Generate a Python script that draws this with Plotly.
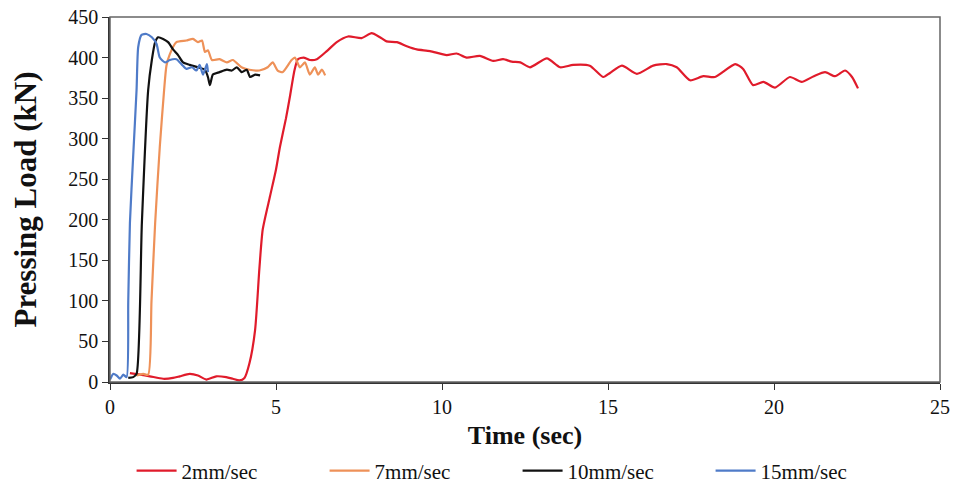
import plotly.graph_objects as go

# ---- data ----
t_2 = [0.6, 0.9, 1.2, 1.6, 1.9, 2.1, 2.4, 2.65, 2.9, 3.2, 3.5, 3.7, 3.9, 4.05, 4.2, 4.37, 4.5, 4.6, 4.82, 5.0, 5.12, 5.3, 5.42, 5.56, 5.66,
       5.83, 6.02, 6.23, 6.53, 6.83, 7.17, 7.58, 7.88, 8.13, 8.33, 8.64, 8.94, 9.24, 9.64, 10.14, 10.44, 10.74, 11.14, 11.54, 11.84,
       12.1, 12.36, 12.65, 13.16, 13.56, 13.95, 14.45, 14.86, 15.06, 15.42, 15.87, 16.36, 16.77, 17.07, 17.47, 17.87, 18.22, 18.83,
       19.07, 19.37, 19.68, 20.03, 20.48, 20.83, 21.2, 21.54, 21.84, 22.14, 22.35, 22.53]
L_2 = [11, 9, 7, 4, 5, 7, 10, 8, 3, 7, 6, 4, 2, 5, 23, 64, 140, 188, 229, 262, 290, 325, 352, 385, 398,
       400, 397, 398, 408, 419, 426, 424, 430, 425, 420, 419, 414, 410, 408, 403, 405, 400, 402, 396, 398,
       395, 394, 388, 399, 388, 391, 390, 376, 381, 390, 380, 390, 392, 388, 372, 377, 376, 392,
       386, 366, 370, 363, 376, 370, 377, 382, 377, 384, 376, 362]

t_7 = [0.8, 1.0, 1.15, 1.25, 1.36, 1.5, 1.63, 1.7, 1.8, 2.0, 2.3, 2.5, 2.65, 2.77, 2.86, 2.95, 3.07, 3.3, 3.52, 3.7, 3.96,
       4.2, 4.5, 4.75, 4.9, 5.05, 5.2, 5.47, 5.57, 5.72, 5.87, 6.02, 6.17, 6.27, 6.38, 6.48]
L_7 = [8, 10, 9, 100, 196, 290, 360, 390, 404, 419, 421, 423, 419, 421, 407, 409, 397, 398, 394, 397, 388,
       385, 384, 388, 394, 384, 382, 397, 400, 388, 394, 379, 388, 379, 385, 378]

t_10 = [0.55, 0.7, 0.8, 0.96, 1.15, 1.26, 1.36, 1.45, 1.6, 1.75, 1.9, 2.05, 2.2, 2.4, 2.65, 2.86, 2.95, 3.01, 3.1, 3.3,
        3.52, 3.67, 3.82, 3.97, 4.12, 4.22, 4.37, 4.52]
L_10 = [5, 6, 10, 196, 360, 397, 419, 425, 423, 419, 410, 403, 394, 391, 388, 385, 376, 366, 379, 382,
        385, 384, 388, 382, 385, 376, 379, 378]

t_15 = [0.0, 0.1, 0.2, 0.3, 0.4, 0.5, 0.55, 0.6, 0.7, 0.8, 0.85, 0.95, 1.1, 1.26, 1.4, 1.5, 1.66, 1.8, 2.0, 2.17, 2.3,
        2.47, 2.6, 2.7, 2.8, 2.92, 2.95]
L_15 = [3, 10, 8, 4, 9, 6, 100, 196, 280, 360, 413, 428, 429, 425, 417, 400, 394, 397, 398, 391, 386,
        388, 384, 391, 379, 392, 382]

series = [
    ("2mm/sec", t_2, L_2, "#E01B2B"),
    ("7mm/sec", t_7, L_7, "#EE9158"),
    ("10mm/sec", t_10, L_10, "#111111"),
    ("15mm/sec", t_15, L_15, "#4F7BC8"),
]

x_ticks = [0, 5, 10, 15, 20, 25]
y_ticks = [0, 50, 100, 150, 200, 250, 300, 350, 400, 450]

fig = go.Figure()
for name, t, L, c in series:
    fig.add_trace(go.Scatter(x=t, y=L, mode="lines", name=name,
                             line=dict(color=c, width=2.2, shape="spline", smoothing=0.6)))

font = "Liberation Serif, Times New Roman, serif"
fig.update_layout(
    width=956, height=489,
    margin=dict(l=110, r=16, t=17, b=107, autoexpand=False),
    paper_bgcolor="white", plot_bgcolor="white",
    font=dict(family=font, size=20, color="#111"),
    showlegend=True,
    legend=dict(orientation="h", xref="paper", x=0.026, xanchor="left",
                yref="container", y=0.037, yanchor="middle",
                font=dict(family=font, size=21, color="#111"),
                entrywidth=138, itemwidth=40, bgcolor="rgba(0,0,0,0)"),
    xaxis=dict(range=[0, 25], tickvals=x_ticks, showgrid=False, zeroline=False, automargin=False,
               showline=True, linecolor="#333", linewidth=1.5,
               ticks="outside", ticklen=6, tickcolor="#333", tickfont=dict(size=20),
               title=dict(text="<b>Time (sec)</b>", font=dict(family=font, size=26, color="#111"), standoff=10)),
    yaxis=dict(range=[0, 450], tickvals=y_ticks, showgrid=False, zeroline=False, automargin=False,
               showline=True, linecolor="#333", linewidth=1.5,
               ticks="outside", ticklen=6, tickcolor="#333", tickfont=dict(size=20),
               title=dict(text="<b>Pressing Load (kN)</b>", font=dict(family=font, size=31, color="#111"), standoff=22)),
    shapes=[dict(type="rect", xref="paper", yref="paper", x0=0, y0=0, x1=1, y1=1,
                 line=dict(color="#666", width=1.5), layer="above")],
)

fig.write_html("out.html")
